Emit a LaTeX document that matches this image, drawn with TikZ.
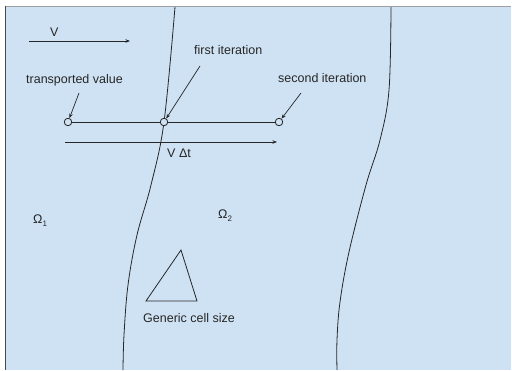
\documentclass[tikz,border=0pt]{standalone}
\usepackage{fontspec}
\setmainfont{Liberation Sans}
\usetikzlibrary{arrows.meta}
\definecolor{paleblue}{HTML}{CFE2F3}
\definecolor{ink}{HTML}{262626}

\begin{document}
\begin{tikzpicture}[x=1pt, y=-1pt, >={Stealth[length=4.5pt,width=3.5pt]},
	lbl/.style={text=ink, font=\fontsize{12.5}{14}\selectfont, inner sep=0pt, anchor=base west},
	pt/.style={circle, draw=ink, fill=paleblue, minimum size=7.5pt, inner sep=0pt, line width=0.8pt}]
	\useasboundingbox (0,0) rectangle (512,370);

	% Fond et bords
	\fill[white] (0,0) rectangle (512,370);
	\fill[paleblue] (5,6) rectangle (511,370);
	\draw[gray!75, line width=1.5pt] (5,6.5) -- (511,6.5); % bord haut
	\draw[ink!85, line width=1.2pt] (5.6,6) -- (5.6,370); % bord gauche

	% Les deux interfaces
	\draw[ink, line width=0.8pt] plot[smooth, tension=0.6] coordinates {(175,7) (164,122) (151,185) (137,235) (128,285) (124,335) (123,370)};
	\draw[ink, line width=0.8pt] plot[smooth, tension=0.6] coordinates {(391,7) (389,90) (380,140) (366,185) (349,252) (340,302) (337,340) (337,370)};

	% Points cles
	\coordinate (VA) at (29,41);
	\coordinate (VB) at (130,41);
	\coordinate (DA) at (65,142);
	\coordinate (DB) at (277,142);
	\coordinate (TVT) at (79,93); % depart fleche transported value
	\coordinate (FIT) at (200,66); % depart fleche first iteration
	\coordinate (SIT) at (301,93); % depart fleche second iteration

	% Points de la trajectoire
	\node[pt] (p0) at (68,122) {};
	\node[pt] (p1) at (164,122) {};
	\node[pt] (p2) at (279,122) {};
	\draw[ink, line width=0.8pt] (p0) -- (p1) -- (p2);

	% Fleches
	\draw[ink, line width=0.8pt, ->] (VA) -- (VB);
	\draw[ink, line width=0.8pt, ->] (DA) -- (DB);
	\draw[ink, line width=0.7pt, ->] (TVT) -- (p0);
	\draw[ink, line width=0.7pt, ->] (FIT) -- (p1);
	\draw[ink, line width=0.7pt, ->] (SIT) -- (p2);

	% Cellule
	\coordinate (C1) at (181,250);
	\coordinate (C2) at (146,301);
	\coordinate (C3) at (197,301);
	\draw[ink, line width=0.8pt] (C1) -- (C2) -- (C3) -- cycle;

	% Etiquettes
	\node[lbl] (v) at (50,36) {V};
	\node[lbl] (first) at (194,54) {first iteration};
	\node[lbl] (transp) at (26,83) {transported value};
	\node[lbl] (second) at (278,82) {second iteration};
	\node[lbl] (vdt) at (167,157) {V Δt};
	\node[lbl] (om1) at (33,223) {Ω\raisebox{-3.5pt}{\fontsize{8}{9}\selectfont 1}};
	\node[lbl] (om2) at (218,218) {Ω\raisebox{-3.5pt}{\fontsize{8}{9}\selectfont 2}};
	\node[lbl] (cell) at (143,322) {Generic cell size};

\end{tikzpicture}
\end{document}
